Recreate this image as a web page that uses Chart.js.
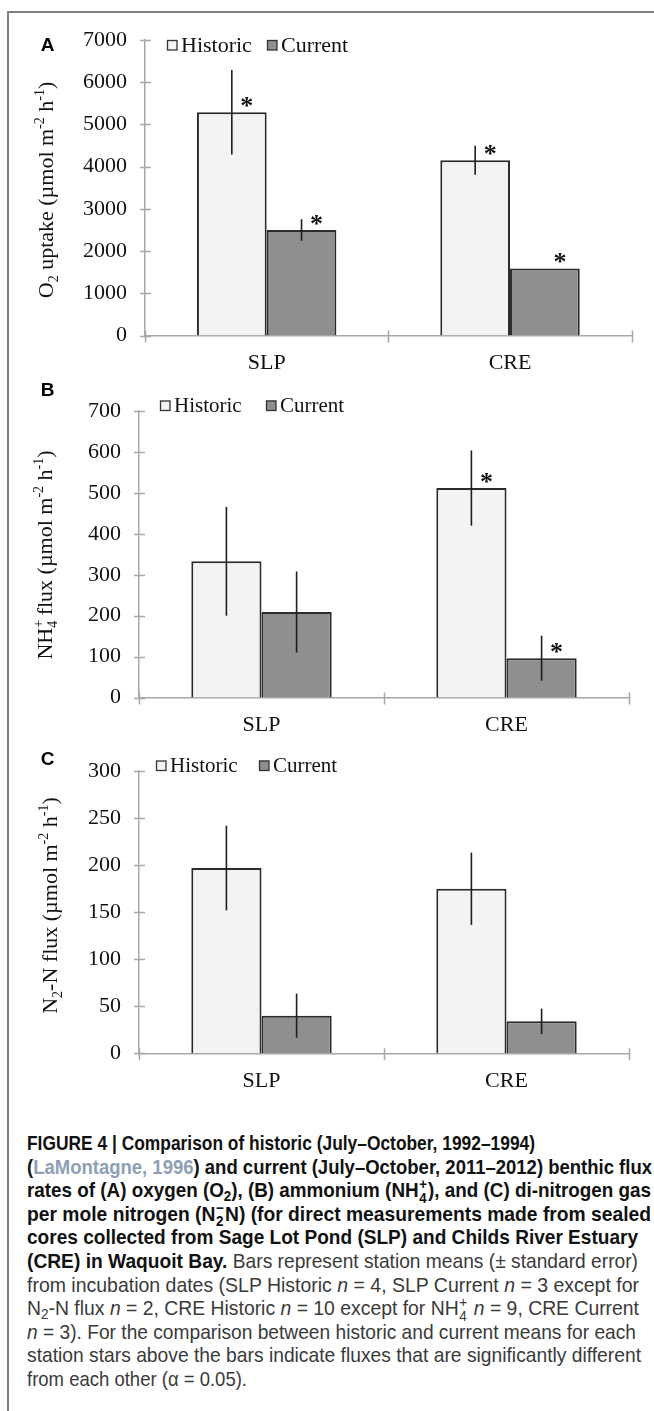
<!DOCTYPE html>
<html>
<head>
<meta charset="utf-8">
<script src="https://cdn.jsdelivr.net/npm/chart.js@4.4.0/dist/chart.umd.min.js"></script>
<style>
html, body { margin: 0; padding: 0; background: #fff; }
body { width: 654px; height: 1411px; position: relative; overflow: hidden; }
#frame { position: absolute; left: 7px; top: 11px; width: 700px; height: 1450px;
  border-left: 2px solid #808080; border-top: 2px solid #808080; }
canvas { position: absolute; left: 0; }
#caption { position: absolute; left: 27px; top: 1131px; color: #3a3a3a;
  font-family: 'Liberation Sans', Arial, sans-serif;
  font-size: 21px; line-height: 23.6px; white-space: nowrap; }
#caption .ln { width: max-content; transform-origin: 0 0; }
#caption b { color: #111; }
#caption .ref { color: #8e9fb4; }
#caption sub { font-size: 0.7em; line-height: 0; vertical-align: -0.25em; }
#caption .ss { position: relative; display: inline-block; width: 0.5em; height: 0; }
#caption .ss span { position: absolute; left: 0.05em; font-size: 0.7em; line-height: 1; }
#caption .ss .sp { top: -1.36em; }
#caption .ss .sb { top: -0.43em; }
</style>
</head>
<body>
<div id="frame"></div>
<canvas id="chartA" width="654" height="380" style="top:0px"></canvas>
<canvas id="chartB" width="654" height="360" style="top:380px"></canvas>
<canvas id="chartC" width="654" height="370" style="top:740px"></canvas>
<div id="caption">
<div class="ln" data-w="508"><b>FIGURE 4 | Comparison of historic (July–October, 1992–1994)</b></div>
<div class="ln" data-w="625"><b>(<span class="ref">LaMontagne, 1996</span>) and current (July–October, 2011–2012) benthic flux</b></div>
<div class="ln" data-w="624"><b>rates of (A) oxygen (O<sub>2</sub>), (B) ammonium (NH<span class="ss"><span class="sp">+</span><span class="sb">4</span></span>), and (C) di-nitrogen gas</b></div>
<div class="ln" data-w="624"><b>per mole nitrogen (N<span class="ss"><span class="sp">−</span><span class="sb">2</span></span>N) (for direct measurements made from sealed</b></div>
<div class="ln" data-w="611"><b>cores collected from Sage Lot Pond (SLP) and Childs River Estuary</b></div>
<div class="ln" data-w="611"><b>(CRE) in Waquoit Bay.</b> Bars represent station means (± standard error)</div>
<div class="ln" data-w="612">from incubation dates (SLP Historic <i>n</i> = 4, SLP Current <i>n</i> = 3 except for</div>
<div class="ln" data-w="612">N<sub>2</sub>-N flux <i>n</i> = 2, CRE Historic <i>n</i> = 10 except for NH<span class="ss"><span class="sp">+</span><span class="sb">4</span></span> <i>n</i> = 9, CRE Current</div>
<div class="ln" data-w="609"><i>n</i> = 3). For the comparison between historic and current means for each</div>
<div class="ln" data-w="614">station stars above the bars indicate fluxes that are significantly different</div>
<div class="ln" data-w="220">from each other (α = 0.05).</div>
</div>
<script>
'use strict';

var stations = ['SLP', 'CRE'],
	seriesNames = ['Historic', 'Current'];

// A - O2 uptake
var o2Ticks = [0, 1000, 2000, 3000, 4000, 5000, 6000, 7000],
	o2Historic = [5290, 4150],
	o2HistoricErr = [1000, 345],
	o2Current = [2500, 1590],
	o2CurrentErr = [255, 0],
	o2HistoricSig = [true, true],
	o2CurrentSig = [true, true];

// B - NH4+ flux
var nh4Ticks = [0, 100, 200, 300, 400, 500, 600, 700],
	nh4Historic = [333, 512],
	nh4HistoricErr = [133, 92],
	nh4Current = [209, 96],
	nh4CurrentErr = [99, 55],
	nh4HistoricSig = [false, true],
	nh4CurrentSig = [false, true];

// C - N2-N flux
var n2Ticks = [0, 50, 100, 150, 200, 250, 300],
	n2Historic = [197, 175],
	n2HistoricErr = [45, 38.5],
	n2Current = [40, 34],
	n2CurrentErr = [23.5, 13.5],
	n2HistoricSig = [false, false],
	n2CurrentSig = [false, false];

var SERIF = "'Liberation Serif', 'Times New Roman', serif",
	SANS = "'Liberation Sans', Arial, sans-serif",
	HIST_FILL = '#f3f3f3',
	CUR_FILL = '#8f8f8f',
	BAR_EDGE = '#2b2b2b',
	AXIS = '#a8a8a8',
	INK = '#111';

// page layout of each panel (page pixels)
var panels = [{
	id: 'chartA', letter: 'A', top: 0, height: 380,
	plotTop: 40, plotBottom: 335.5, axisX: 145, axisRight: 631.7,
	ticks: o2Ticks,
	historic: o2Historic, historicErr: o2HistoricErr, historicSig: o2HistoricSig,
	current: o2Current, currentErr: o2CurrentErr, currentSig: o2CurrentSig,
	letterY: 45,
	legend: { y: 45, histX: 167, curX: 267, size: 22 },
	title: { x: 53, y: 190, parts: [
		{ t: 'O' }, { t: '2', pos: 'sub' }, { t: ' uptake (\u00b5mol m' },
		{ t: '-2', pos: 'sup' }, { t: ' h' }, { t: '-1', pos: 'sup' }, { t: ')' }
	] }
}, {
	id: 'chartB', letter: 'B', top: 380, height: 360,
	plotTop: 401.7, plotBottom: 697.5, axisX: 139, axisRight: 629,
	ticks: nh4Ticks,
	historic: nh4Historic, historicErr: nh4HistoricErr, historicSig: nh4HistoricSig,
	current: nh4Current, currentErr: nh4CurrentErr, currentSig: nh4CurrentSig,
	letterY: 390,
	legend: { y: 405.5, histX: 160, curX: 266, size: 21 },
	title: { x: 52, y: 555, parts: [
		{ t: 'NH' }, { t: '4', pos: 'sub' }, { t: '+', pos: 'sup', stack: true },
		{ t: ' flux (\u00b5mol m' }, { t: '-2', pos: 'sup' }, { t: ' h' },
		{ t: '-1', pos: 'sup' }, { t: ')' }
	] }
}, {
	id: 'chartC', letter: 'C', top: 740, height: 370,
	plotTop: 757.7, plotBottom: 1053.3, axisX: 139, axisRight: 629,
	ticks: n2Ticks,
	historic: n2Historic, historicErr: n2HistoricErr, historicSig: n2HistoricSig,
	current: n2Current, currentErr: n2CurrentErr, currentSig: n2CurrentSig,
	letterY: 759,
	legend: { y: 765.5, histX: 156, curX: 259, size: 21 },
	title: { x: 57, y: 905.5, parts: [
		{ t: 'N' }, { t: '2', pos: 'sub' }, { t: '-N flux (\u00b5mol m' },
		{ t: '-2', pos: 'sup' }, { t: ' h' }, { t: '-1', pos: 'sup' }, { t: ')' }
	] }
}];

/**
 * Rotated axis title with sub- and superscripts, centred on y,
 * x being the baseline.
 */
function drawRichTitle(ctx, parts, x, y, size) {
	var small = Math.round(size * 0.62),
		width = 0,
		items;

	items = parts.map(function (p) {
		var f = p.pos ? small : size;
		ctx.font = f + 'px ' + SERIF;
		return { t: p.t, pos: p.pos, stack: p.stack, f: f, w: ctx.measureText(p.t).width };
	});
	items.forEach(function (it) {
		if (!it.stack) {
			width += it.w;
		}
	});

	ctx.save();
	ctx.translate(x, y);
	ctx.rotate(-Math.PI / 2);
	ctx.fillStyle = INK;
	ctx.textAlign = 'left';
	ctx.textBaseline = 'alphabetic';
	var cx = -width / 2,
		prevX = cx;
	items.forEach(function (it) {
		var dy = it.pos === 'sub' ? size * 0.22 : (it.pos === 'sup' ? -size * 0.4 : 0);
		ctx.font = it.f + 'px ' + SERIF;
		ctx.fillText(it.t, it.stack ? prevX : cx, dy);
		if (!it.stack) {
			prevX = cx;
			cx += it.w;
		}
	});
	ctx.restore();
}

// error bars, stars, crossing tick marks, legend, panel letter, y title
function decor(p) {
	return {
		id: 'decor' + p.letter,
		afterDatasetsDraw: function (chart) {
			var ctx = chart.ctx,
				yScale = chart.scales.y;

			ctx.save();
			chart.data.datasets.forEach(function (ds, i) {
				chart.getDatasetMeta(i).data.forEach(function (bar, j) {
					var v = ds.data[j],
						err = ds.errors[j];
					if (err > 0) {
						ctx.strokeStyle = '#1e1e1e';
						ctx.lineWidth = 1.6;
						ctx.beginPath();
						ctx.moveTo(bar.x, yScale.getPixelForValue(v + err));
						ctx.lineTo(bar.x, yScale.getPixelForValue(v - err));
						ctx.stroke();
					}
					if (ds.significant[j]) {
						ctx.fillStyle = INK;
						ctx.font = 'bold 26px ' + SERIF;
						ctx.textAlign = 'center';
						ctx.textBaseline = 'alphabetic';
						ctx.fillText('*', bar.x + 15, bar.y + 2);
					}
				});
			});
			ctx.restore();
		},
		afterDraw: function (chart) {
			var ctx = chart.ctx,
				yScale = chart.scales.y,
				area = chart.chartArea,
				n = chart.data.labels.length,
				step = (area.right - area.left) / n,
				lg = p.legend,
				ly = lg.y - p.top,
				k;

			ctx.save();
			ctx.strokeStyle = AXIS;
			ctx.lineWidth = 1.5;
			ctx.beginPath();
			yScale.ticks.forEach(function (t, idx) {
				var y = Math.round(yScale.getPixelForTick(idx)) + 0.5;
				ctx.moveTo(area.left - 5, y);
				ctx.lineTo(area.left + 6, y);
			});
			for (k = 0; k <= n; k++) {
				var x = Math.round(area.left + k * step) + 0.5;
				ctx.moveTo(x, area.bottom - 5);
				ctx.lineTo(x, area.bottom + 7);
			}
			ctx.stroke();

			// legend
			ctx.font = lg.size + 'px ' + SERIF;
			ctx.textBaseline = 'middle';
			ctx.textAlign = 'left';
			[lg.histX, lg.curX].forEach(function (bx, i) {
				var ds = chart.data.datasets[i];
				ctx.fillStyle = ds.backgroundColor;
				ctx.fillRect(bx, ly - 5, 10, 10);
				ctx.strokeStyle = '#333';
				ctx.lineWidth = 1.3;
				ctx.strokeRect(bx + 0.5, ly - 4.5, 9.5, 9.5);
				ctx.fillStyle = INK;
				ctx.fillText(ds.label, bx + 14, ly + 1);
			});

			// panel letter
			ctx.font = 'bold 19px ' + SANS;
			ctx.textAlign = 'center';
			ctx.fillStyle = '#000';
			ctx.fillText(p.letter, 47.5, p.letterY - p.top + 1);

			drawRichTitle(ctx, p.title.parts, p.title.x, p.title.y - p.top, 22);
			ctx.restore();
		}
	};
}

function makePanel(p) {
	var t = p.ticks;
	return new Chart(document.getElementById(p.id), {
		type: 'bar',
		data: {
			labels: stations,
			datasets: [{
				label: seriesNames[0],
				data: p.historic,
				errors: p.historicErr,
				significant: p.historicSig,
				backgroundColor: HIST_FILL,
				borderColor: BAR_EDGE,
				borderWidth: 2,
				barPercentage: 1,
				categoryPercentage: 0.573
			}, {
				label: seriesNames[1],
				data: p.current,
				errors: p.currentErr,
				significant: p.currentSig,
				backgroundColor: CUR_FILL,
				borderColor: BAR_EDGE,
				borderWidth: 2,
				barPercentage: 1,
				categoryPercentage: 0.573
			}]
		},
		options: {
			responsive: false,
			animation: false,
			devicePixelRatio: 1,
			layout: {
				padding: { top: p.plotTop - p.top, left: 0, right: 654 - p.axisRight, bottom: 0 }
			},
			plugins: {
				legend: { display: false },
				tooltip: { enabled: false },
				title: { display: false }
			},
			scales: {
				x: {
					grid: { display: false, drawTicks: false },
					border: { display: true, color: AXIS, width: 1.5 },
					ticks: { color: INK, font: { family: SERIF, size: 22 }, padding: 15 },
					afterFit: function (s) {
						s.height = p.top + p.height - p.plotBottom;
					}
				},
				y: {
					min: t[0],
					max: t[t.length - 1],
					grid: { display: false, drawTicks: false },
					border: { display: true, color: AXIS, width: 1.5 },
					ticks: {
						stepSize: t[1] - t[0],
						color: INK,
						font: { family: SERIF, size: 22 },
						padding: 18,
						callback: function (v) {
							return String(v);
						}
					},
					afterFit: function (s) {
						s.width = p.axisX;
					}
				}
			}
		},
		plugins: [decor(p)]
	});
}

panels.forEach(makePanel);

// squeeze each caption line to the width it has in the figure
document.querySelectorAll('#caption .ln').forEach(function (el) {
	var target = +el.getAttribute('data-w'),
		natural = el.getBoundingClientRect().width;
	el.style.transform = 'scaleX(' + (target / natural).toFixed(4) + ')';
});
</script>
</body>
</html>
